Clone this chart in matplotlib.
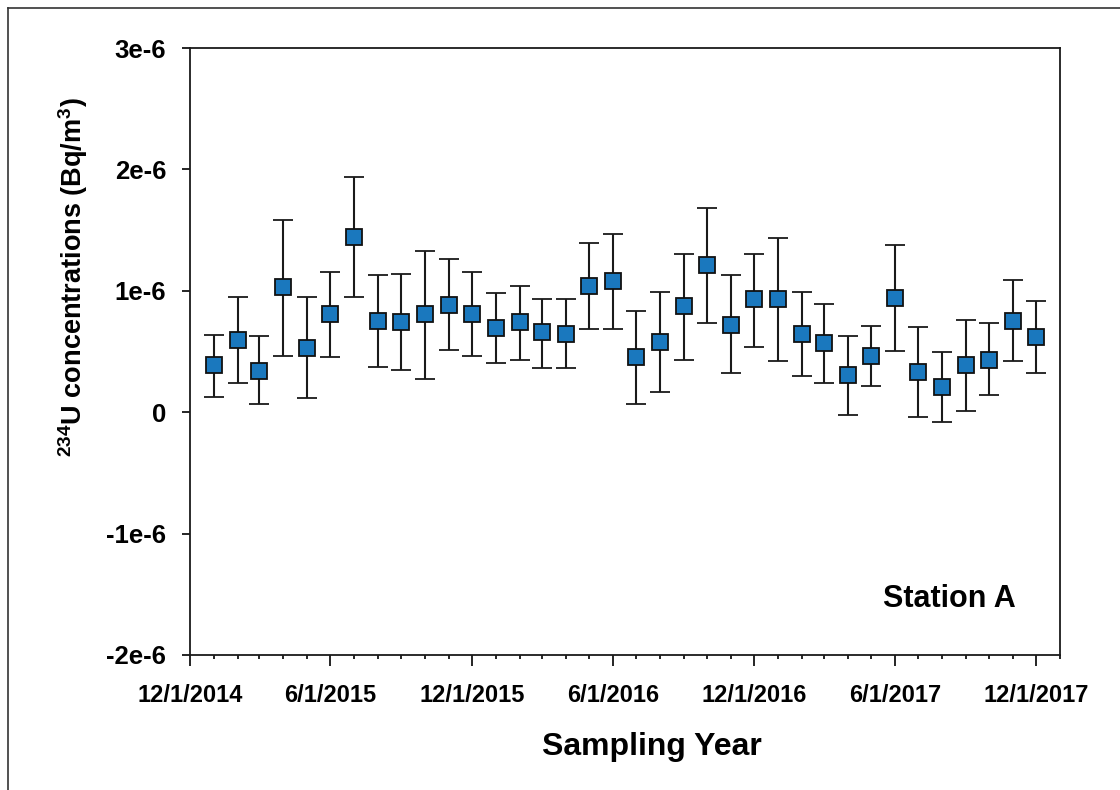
"""
234U concentrations at Station A, monthly samples with error bars
"""
import numpy as np
import pandas as pd
import matplotlib
matplotlib.use('Agg')
from matplotlib import pyplot as plt
import matplotlib.dates as mdates
from matplotlib.lines import Line2D
from matplotlib.ticker import FixedLocator, FuncFormatter

# sampling months (first of each month), Jan 2015 .. Dec 2017
dates = pd.date_range('2015-01-01', periods=36, freq='MS')

# concentration (units of 1e-6 Bq/m3)
conc = [0.385, 0.593, 0.343, 1.03, 0.527, 0.813, 1.445, 0.75, 0.739, 0.805,
        0.885, 0.81, 0.692, 0.739, 0.657, 0.648, 1.038, 1.077, 0.451, 0.582,
        0.871, 1.209, 0.72, 0.929, 0.929, 0.648, 0.569, 0.305, 0.467, 0.942,
        0.335, 0.209, 0.385, 0.431, 0.755, 0.621]
upper = [0.64, 0.951, 0.626, 1.585, 0.951, 1.157, 1.937, 1.129, 1.14, 1.332,
         1.258, 1.157, 0.978, 1.038, 0.934, 0.934, 1.39, 1.464, 0.83, 0.992,
         1.302, 1.684, 1.129, 1.302, 1.437, 0.992, 0.893, 0.626, 0.714, 1.376,
         0.701, 0.495, 0.758, 0.734, 1.085, 0.92]
lower = [0.129, 0.242, 0.069, 0.467, 0.115, 0.451, 0.951, 0.376, 0.349, 0.275,
         0.511, 0.467, 0.407, 0.434, 0.363, 0.363, 0.684, 0.684, 0.069, 0.17,
         0.434, 0.734, 0.319, 0.538, 0.42, 0.302, 0.242, -0.019, 0.214, 0.508,
         -0.036, -0.08, 0.008, 0.143, 0.423, 0.319]

ytick_vals = [-2e-6, -1e-6, 0, 1e-6, 2e-6, 3e-6]
ytick_labels = ['-2e-6', '-1e-6', '0', '1e-6', '2e-6', '3e-6']
station = 'Station A'

plt.rcParams['font.family'] = ['Liberation Sans', 'DejaVu Sans']
plt.rcParams['font.weight'] = 'bold'
plt.rcParams['mathtext.fontset'] = 'custom'
plt.rcParams['mathtext.rm'] = 'Liberation Sans:bold'
plt.rcParams['mathtext.bf'] = 'Liberation Sans:bold'
plt.rcParams['mathtext.it'] = 'Liberation Sans:bold'

fig = plt.figure(figsize=(11.2, 7.9), dpi=100)
ax = fig.add_axes([0.1696, 0.1709, 0.7768, 0.7683])

y = np.array(conc) * 1e-6
yerr = np.vstack([(np.array(conc) - np.array(lower)) * 1e-6,
                  (np.array(upper) - np.array(conc)) * 1e-6])

ax.errorbar(dates, y, yerr=yerr, fmt='s', color='black', ecolor='#1a1a1a',
            elinewidth=1.5, capsize=7, capthick=1.5,
            markerfacecolor='#1a78be', markeredgecolor='#111111',
            markersize=11, markeredgewidth=1.3, zorder=3)

ax.set_xlim(pd.Timestamp('2014-12-01'), pd.Timestamp('2018-01-01'))
ax.set_ylim(-2e-6, 3e-6)

ax.xaxis.set_major_locator(mdates.MonthLocator(bymonth=[6, 12], bymonthday=1))
ax.xaxis.set_minor_locator(mdates.MonthLocator())
ax.xaxis.set_major_formatter(FuncFormatter(
    lambda v, pos: '{d.month}/{d.day}/{d.year}'.format(d=mdates.num2date(v))))

ax.yaxis.set_major_locator(FixedLocator(ytick_vals))
ax.set_yticklabels(ytick_labels)

ax.tick_params(axis='x', which='major', length=8, width=1.2, pad=13,
               labelsize=17, direction='out')
ax.tick_params(axis='x', which='minor', length=3, width=1.2, direction='out')
ax.tick_params(axis='y', which='major', length=6, width=1.2, pad=11,
               labelsize=18.5, direction='out')
for s in ax.spines.values():
    s.set_linewidth(1.3)
    s.set_color('#1a1a1a')

ax.set_xlabel('Sampling Year', fontsize=23, fontweight='bold', va='center')
ax.xaxis.set_label_coords(0.531, -0.151)
ax.set_ylabel(r'$^{234}$U concentrations (Bq/m$^{3}$)', fontsize=19.5,
              fontweight='bold', va='center')
ax.yaxis.set_label_coords(-0.134, 0.623)

ax.text(0.873, 0.093, station, transform=ax.transAxes, fontsize=22,
        fontweight='bold', ha='center', va='center')

# thin frame on left and top edges of the picture
fig.add_artist(Line2D([0.0071, 0.0071], [0, 0.9899], color='#333333',
                      lw=1.2, transform=fig.transFigure))
fig.add_artist(Line2D([0.0071, 1], [0.9899, 0.9899], color='#333333',
                      lw=1.2, transform=fig.transFigure))

fig.savefig('out.png', dpi=100)
